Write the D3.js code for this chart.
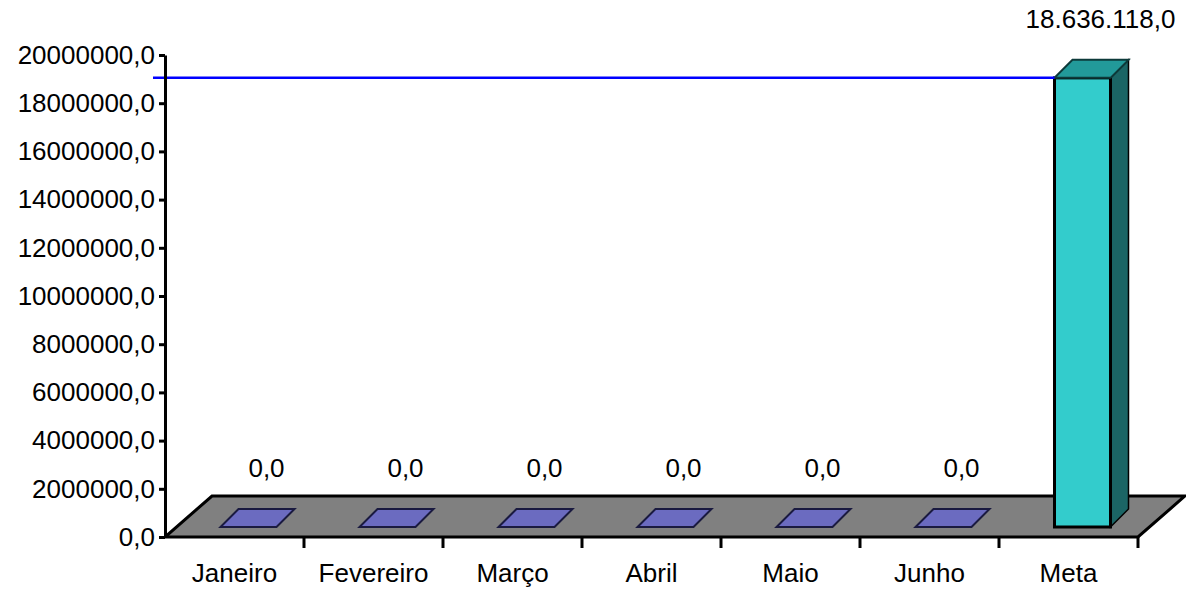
<!DOCTYPE html>
<html><head><meta charset="utf-8">
<script src="https://cdn.jsdelivr.net/npm/d3@7"></script>
<style>body{margin:0;background:#fff}svg{display:block}text{font-family:"Liberation Sans",Arial,sans-serif;fill:#000}</style>
</head><body>
<svg id="c" width="1186" height="589"></svg>
<script>
const categories = ["Janeiro","Fevereiro","Março","Abril","Maio","Junho","Meta"];
const values = [0,0,0,0,0,0,18636118];
const yTicks = [0,2000000,4000000,6000000,8000000,10000000,12000000,14000000,16000000,18000000,20000000];
const goalValue = 18636118;

const svg = d3.select("#c");
const x0 = 165, x1 = 1138, yBase = 537, yTop = 55;
const floorDx = 47, floorDy = -41;
const fDx = 12, fDy = -10, bDx = 30, bDy = -28;
const barW = 56;

const loc = d3.formatLocale({decimal: ",", thousands: ".", grouping: [3], currency: ["", ""]});
const tickFmt = loc.format(".1f");
const labFmt = loc.format(",.1f");

const x = d3.scaleBand().domain(categories).range([x0, x1]).padding(0);
const y = d3.scaleLinear().domain([0, 20000000]).range([yBase, yTop]);

// floor
const fl = [[x0, yBase], [x1, yBase], [x1 + floorDx, yBase + floorDy], [x0 + floorDx, yBase + floorDy]];
svg.append("path").attr("d", "M" + fl.join("L") + "Z")
  .attr("fill", "#808080").attr("stroke", "#000").attr("stroke-width", 3).attr("stroke-linejoin", "miter");

// bars
const g = svg.append("g");
categories.forEach((c, i) => {
  const v = values[i];
  const cx = x(c) + x.bandwidth() / 2 + 2;
  const lx = cx - barW / 2 + fDx, rx = cx + barW / 2 + fDx;
  const yb = y(0) + fDy, yt = y(v) + fDy;
  const ddx = bDx - fDx, ddy = bDy - fDy;
  const isMeta = v > 0;
  if (isMeta) {
    g.append("path").attr("d", `M${rx},${yt}L${rx + ddx},${yt + ddy}L${rx + ddx},${yb + ddy}L${rx},${yb}Z`)
      .attr("fill", "#1b6565").attr("stroke", "#000").attr("stroke-width", 1.5);
    g.append("rect").attr("x", lx).attr("y", yt).attr("width", barW).attr("height", yb - yt)
      .attr("fill", "#33cccc").attr("stroke", "#000").attr("stroke-width", 3);
  }
  g.append("path").attr("d", `M${lx},${yt}L${rx},${yt}L${rx + ddx},${yt + ddy}L${lx + ddx},${yt + ddy}Z`)
    .attr("fill", isMeta ? "#229a9a" : "#6b6bc0").attr("stroke", isMeta ? "#0d3a3a" : "#1a1a40").attr("stroke-width", 2);
  g.append("text").attr("x", cx + (bDx + fDx) / 2 + 9).attr("y", y(v) + bDy - 32)
    .attr("text-anchor", "middle").attr("font-size", 26).text(labFmt(v));
});

// goal line
const meta = categories[categories.length - 1];
svg.append("line").attr("x1", 153).attr("x2", x(meta) + x.bandwidth() / 2 + 2 - barW / 2 + fDx)
  .attr("y1", y(goalValue) + fDy).attr("y2", y(goalValue) + fDy)
  .attr("stroke", "#0000ff").attr("stroke-width", 2.5);

// y axis
const ya = svg.append("g").attr("transform", `translate(${x0},0)`)
  .call(d3.axisLeft(y).tickValues(yTicks).tickFormat(tickFmt).tickSize(6).tickSizeOuter(0).tickPadding(4));
ya.select(".domain").attr("stroke", "#000").attr("stroke-width", 3);
ya.selectAll(".tick line").attr("stroke", "#000").attr("stroke-width", 3);
ya.selectAll(".tick text").attr("font-size", 26).attr("font-family", '"Liberation Sans",Arial,sans-serif').attr("fill", "#000");

// x axis
const xa = svg.append("g").attr("transform", `translate(0,${yBase})`)
  .call(d3.axisBottom(x).tickSize(0).tickSizeOuter(0).tickPadding(27));
xa.select(".domain").remove();
xa.selectAll(".tick text").attr("font-size", 26).attr("font-family", '"Liberation Sans",Arial,sans-serif').attr("fill", "#000");
const tickXs = categories.map(c => x(c) + x.bandwidth());
svg.append("g").selectAll("line").data(tickXs).join("line")
  .attr("x1", d => d).attr("x2", d => d).attr("y1", yBase).attr("y2", yBase + 11)
  .attr("stroke", "#000").attr("stroke-width", 3);
</script>
</body></html>
